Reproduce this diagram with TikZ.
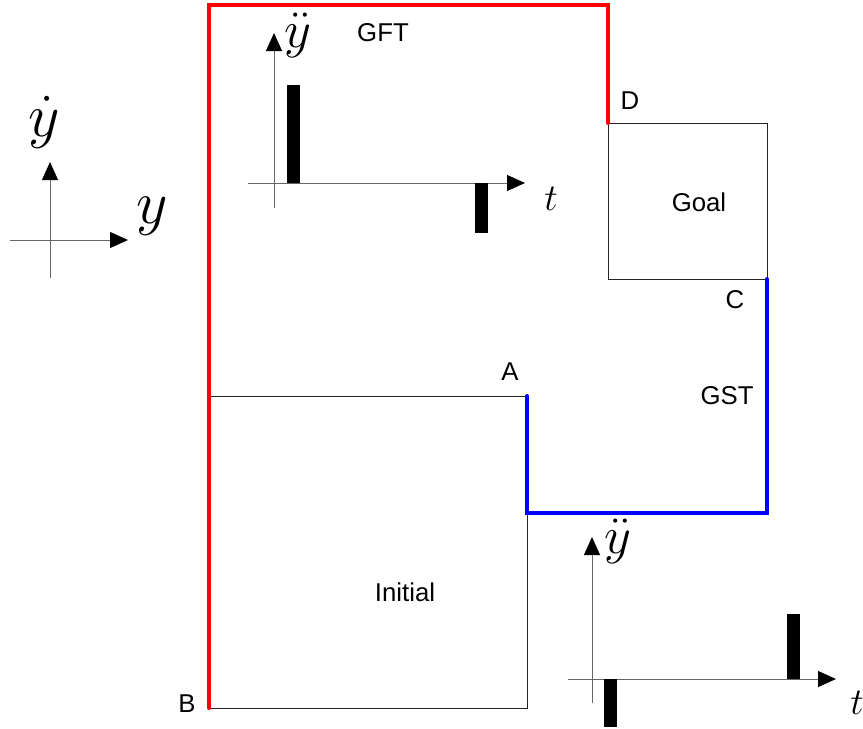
\documentclass[tikz,border=0pt]{standalone}
\usepackage{fontspec}
\setmainfont{Liberation Sans}
\usetikzlibrary{arrows.meta}

\tikzset{
  region/.style={draw=black!85, line width=0.8pt},
  gft/.style={draw=red, line width=3.4pt, line cap=round},
  gst/.style={draw=blue, line width=3.4pt, line cap=round},
  axis/.style={draw=black!60, line width=0.8pt,
    -{Triangle[length=0.54cm,width=0.48cm,black]}},
  pulse/.style={fill=black},
  tag/.style={inner sep=0pt, font=\fontsize{22}{25}\selectfont},
  bigsym/.style={inner sep=0pt, font=\Huge, scale=2.1},
  sym/.style={inner sep=0pt, font=\Huge, scale=1.8},
  tsym/.style={inner sep=0pt, font=\Huge, scale=1.3},
}

\begin{document}
\begin{tikzpicture}[x=0.03cm, y=-0.03cm]
    \useasboundingbox (0,0) rectangle (863,729);

    % corner points
    \coordinate (A) at (527,396);
    \coordinate (B) at (209,708);
    \coordinate (C) at (767,279);
    \coordinate (D) at (608,123);

    % regions
    \draw[region] (209,396) rectangle (527,708);
    \draw[region] (D) rectangle (C);
    \node[tag] (initial) at (405,592) {Initial};
    \node[tag] (goal) at (699,202) {Goal};

    % the two trajectories
    \draw[gft] (B) -- (209,5) -- (608,5) -- (D);
    \draw[gst] (A) -- (527,513) -- (767,513) -- (C);

    \node[tag] (labA) at (510,372) {A};
    \node[tag] (labB) at (187,704) {B};
    \node[tag] (labC) at (735,300) {C};
    \node[tag] (labD) at (630,101) {D};
    \node[tag] (gftlab) at (383,33) {GFT};
    \node[tag] (gstlab) at (727,396) {GST};

    % phase plane axes
    \draw[axis] (50,278) -- (50,162);
    \draw[axis] (10,240) -- (128,240);
    \node[bigsym] (ydot) at (44,122) {$\dot{y}$};
    \node[bigsym] (ypos) at (152,216) {$y$};

    % acceleration profile, GFT
    \draw[axis] (274,208) -- (274,33);
    \draw[axis] (248,183) -- (525,183);
    \fill[pulse] (287,85) rectangle (300,183);
    \fill[pulse] (475,183) rectangle (488,233);
    \node[sym] (acc1) at (298,35) {$\ddot{y}$};
    \node[tsym] (time1) at (551,199) {$t$};

    % acceleration profile, GST
    \draw[axis] (592,703) -- (592,537);
    \draw[axis] (568,679) -- (836,679);
    \fill[pulse] (604,679) rectangle (617,727);
    \fill[pulse] (787,614) rectangle (800,679);
    \node[sym] (acc2) at (618,541) {$\ddot{y}$};
    \node[tsym] (time2) at (857,703) {$t$};
\end{tikzpicture}
\end{document}
